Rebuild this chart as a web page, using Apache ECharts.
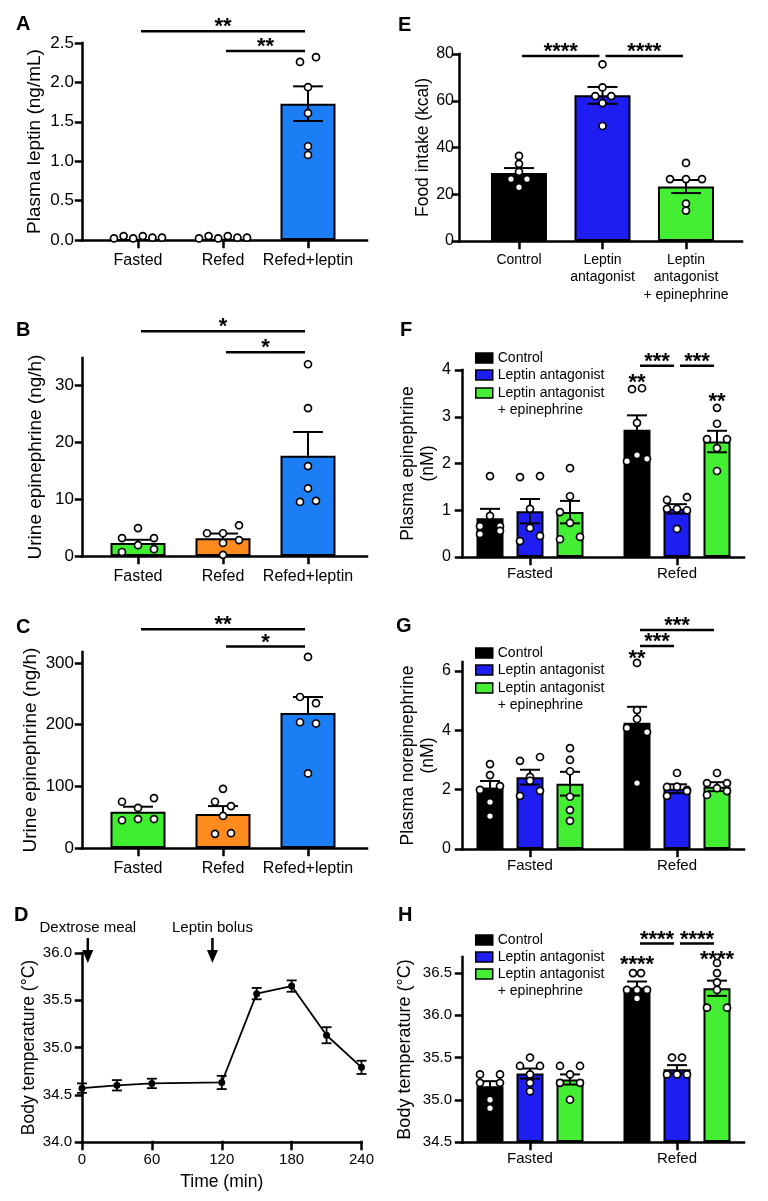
<!DOCTYPE html>
<html><head><meta charset="utf-8">
<script src="https://cdn.jsdelivr.net/npm/echarts@6/dist/echarts.min.js"></script>
<style>html,body{margin:0;padding:0;background:#fff}#c{width:768px;height:1201px}</style>
</head><body><div id="c"></div>
<script>
// ================= DATA =================
// Panel A
const catsABC = ['Fasted', 'Refed', 'Refed+leptin'];
const ticksA = [0, 0.5, 1.0, 1.5, 2.0, 2.5];
const meanA = [0, 0, 1.73];
const semA = [0, 0, 0.22];
const dotsA = [[0.02,0.05,0.02,0.05,0.03,0.03],[0.02,0.05,0.02,0.05,0.03,0.03],[2.26,2.32,1.94,1.61,1.19,1.08]];
const laneA = [[-1.5,-0.9,-0.3,0.3,0.9,1.5],[-1.5,-0.9,-0.3,0.3,0.9,1.5],[-0.5,0.5,0,0,0,0]];
const sigA = [[0,2,2.65],[1,2,2.40]];
const sigLabA = ['**','**'];
// Panel B
const ticksB = [0, 10, 20, 30];
const meanB = [2.3, 3.1, 17.6];
const semB = [0.55, 0.85, 4.2];
const dotsB = [[3.15,4.9,3.15,0.7,1.9,1.2],[4.0,4.0,5.4,2.3,2.8,0.2],[33.7,26.0,15.8,11.9,9.5,9.7]];
const laneB = [[-1,0,1,-1,0,1],[-1,0,1,0,1,0],[0,0,0,0,-0.5,0.5]];
const sigB = [[0,2,39.5],[1,2,35.8]];
const sigLabB = ['*','*'];
// Panel C
const ticksC = [0, 100, 200, 300];
const meanC = [59, 55, 219];
const semC = [8, 13, 26];
const dotsC = [[75,65,81,45,47,47],[96,75,68,52,23,24],[310,245,235,204,202,121]];
const laneC = [[-1,0,1,-1,0,1],[0,-0.5,0.5,0,-0.5,0.5],[0,-0.5,0.5,-0.5,0.5,0]];
const sigC = [[0,2,355],[1,2,327]];
const sigLabC = ['**','*'];
// Panel D
const timeD = [0, 30, 60, 120, 150, 180, 210, 240];
const tempD = [34.57, 34.60, 34.62, 34.63, 35.57, 35.65, 35.13, 34.79];
const semD = [0.05, 0.055, 0.05, 0.07, 0.06, 0.06, 0.085, 0.07];
const ticksDx = [0, 60, 120, 180, 240];
const ticksDy = [34.0, 34.5, 35.0, 35.5, 36.0];
const eventTimesD = [5, 112];
const eventLabelsD = ['Dextrose meal', 'Leptin bolus'];
// Panel E
const catsE = ['Control', 'Leptin\nantagonist', 'Leptin\nantagonist\n+ epinephrine'];
const ticksE = [0, 20, 40, 60, 80];
const meanE = [29.1, 62.3, 23.3];
const semE = [2.1, 3.6, 2.8];
const dotsE = [[36.4,33.0,29.6,26.5,26.5,23.0],[75.6,65.7,62.0,62.0,59.0,49.2],[33.4,26.5,26.5,26.5,16.0,13.0]];
const laneE = [[0,0,0,-0.5,0.5,0],[0,0,-0.45,0.55,0,0],[0,-1,0,1,0,0]];
const sigE = [[0,1,79.1],[1,2,79.1]];
const sigLabE = ['****','****'];
// Panels F-H (series x group)
const groupsFGH = ['Fasted', 'Refed'];
const seriesFGH = ['Control', 'Leptin antagonist', 'Leptin antagonist + epinephrine'];
// F
const ticksF = [0, 1, 2, 3, 4];
const meanF = [[0.83,2.72],[0.98,1.03],[0.96,2.47]];
const semF = [[0.2,0.31],[0.26,0.1],[0.24,0.23]];
const dotsF = [
  [[1.73,0.88,0.66,0.66,0.49,0.56],[3.59,3.61,2.87,2.05,2.18,2.10]],
  [[1.71,1.73,1.03,0.62,0.34,0.45],[1.22,1.28,1.03,1.03,1.00,0.60]],
  [[1.90,1.30,0.73,0.96,0.38,0.43],[3.19,2.85,2.52,2.52,2.33,1.84]]];
const laneF = [
  [[0,0,-1,1,-1,1],[-0.5,0.5,0,-1,0,1]],
  [[-1,1,0,0,-1,1],[-1,1,-1,0,1,0]],
  [[0,0,0,-1,-1,1],[0,0,-1,1,0,0]]];
const sigF = [[[1,0],[1,1],4.09],[[1,1],[1,2],4.09],[[1,0],[1,0],3.83],[[1,2],[1,2],3.42]];
const sigLabF = ['***','***','**','**'];
// G
const ticksG = [0, 2, 4, 6];
const meanG = [[2.07,4.25],[2.42,2.03],[2.2,2.1]];
const semG = [[0.22,0.54],[0.25,0.15],[0.4,0.15]];
const dotsG = [
  [[2.86,2.49,1.99,2.12,1.58,1.11],[6.27,4.68,4.08,3.94,4.38,2.22]],
  [[2.97,3.10,2.43,1.96,1.79,2.30],[2.56,2.09,1.99,2.10,1.79,1.95]],
  [[3.40,3.00,2.62,1.76,1.31,0.95],[2.56,2.22,2.22,2.05,1.82,1.95]]];
const laneG = [
  [[0,0,-1,1,0,0],[0,0,-1,1,0,0]],
  [[-1,1,0,1,-1,0],[0,-1,1,0,-1,1]],
  [[0,0,0,0,0,0],[0,-1,1,0,-1,1]]];
const sigG = [[[1,0],[1,1],6.84],[[1,0],[1,2],7.38],[[1,0],[1,0],6.57]];
const sigLabG = ['***','***','**'];
// H
const ticksH = [34.5, 35.0, 35.5, 36.0, 36.5];
const meanH = [[35.16,36.33],[35.31,35.36],[35.24,36.32]];
const semH = [[0.06,0.07],[0.06,0.05],[0.06,0.09]];
const dotsH = [
  [[35.3,35.3,35.2,35.2,35.0,34.9],[36.5,36.5,36.3,36.3,36.3,36.2]],
  [[35.5,35.4,35.4,35.3,35.2,35.1],[35.5,35.5,35.3,35.3,35.3,35.3]],
  [[35.4,35.4,35.3,35.2,35.2,35.0],[36.62,36.5,36.39,36.3,36.09,36.09]]];
const laneH = [
  [[-1,1,-1,1,0,0],[-0.4,0.4,-1,0,1,0]],
  [[0,-1,1,0,0,0],[-0.5,0.5,-1,0,1,0]],
  [[-1,1,0,-1,1,0],[0,0,0,0,-1,1]]];
const sigH = [[[1,0],[1,1],36.85],[[1,1],[1,2],36.85],[[1,0],[1,0],36.65],[[1,2],[1,2],36.72]];
const sigLabH = ['****','****','****','****'];

// ================= STYLE / LAYOUT =================
const FONT = '"Liberation Sans", Arial, Helvetica, sans-serif';
const BLUE1 = '#1c7ef4', GREEN1 = '#3fee2e', ORANGE = '#ff8a1e';
const BLUE2 = '#1e1ef2', GREEN2 = '#44ee33';
const colorsFGH = ['#000000', BLUE2, GREEN2];
const LINE = {color: '#000', width: 2.5, cap: 'square'};
const OFF = 40 / 147; // member offset within a group (F-H)

const option = {
  animation: false, backgroundColor: '#fff',
  textStyle: {fontFamily: FONT, color: '#000'},
  title: [], legend: [], grid: [], xAxis: [], yAxis: [], series: []
};

function fmt1(v) { return Number(v).toFixed(1); }
function fmt0(v) { return String(Math.round(v * 100) / 100); }

function addPanel(p) {
  const gi = option.grid.length;
  option.grid.push({left: p.left, top: p.top, width: p.width, height: p.height});
  option.xAxis.push({
    type: 'value', gridIndex: gi, min: p.xMin, max: p.xMax,
    axisLine: {show: true, onZero: false, lineStyle: LINE},
    axisTick: {show: true, length: 7, lineStyle: LINE, customValues: p.xTicks},
    axisLabel: {show: true, customValues: p.xTicks, formatter: p.xFmt, color: '#000',
      fontSize: p.xLabelSize, margin: p.xLabelMargin, lineHeight: p.xLabelLH || undefined, fontFamily: FONT},
    splitLine: {show: false},
    name: p.xName || '', nameLocation: 'middle', nameGap: p.xNameGap || 0,
    nameTextStyle: {color: '#000', fontSize: p.xNameSize || 16, fontFamily: FONT}
  });
  option.yAxis.push({
    type: 'value', gridIndex: gi, min: p.yMin, max: p.yMax, startValue: p.yMin,
    axisLine: {show: true, onZero: false, lineStyle: LINE},
    axisTick: {show: true, length: 6, lineStyle: LINE, customValues: p.yTicks},
    axisLabel: {show: true, customValues: p.yTicks, formatter: p.yFmt, color: '#000',
      fontSize: p.yLabelSize, margin: p.yLabelMargin, fontFamily: FONT},
    splitLine: {show: false},
    name: p.yName, nameLocation: 'middle', nameGap: p.yNameGap,
    nameTextStyle: {color: '#000', fontSize: p.yNameSize, lineHeight: p.yNameLH || undefined, fontFamily: FONT, align: 'center'}
  });
  return gi;
}

function errRender(capHalf, lower, lw) {
  return function (params, api) {
    const x = api.value(0), m = api.value(1), s = api.value(2);
    if (!(s > 0)) return null;
    const p0 = api.coord([x, lower ? m - s : m]);
    const p1 = api.coord([x, m + s]);
    const st = {stroke: '#000', lineWidth: lw};
    const ch = [
      {type: 'line', shape: {x1: p0[0], y1: p0[1], x2: p1[0], y2: p1[1]}, style: st},
      {type: 'line', shape: {x1: p1[0] - capHalf, y1: p1[1], x2: p1[0] + capHalf, y2: p1[1]}, style: st}
    ];
    if (lower) ch.push({type: 'line', shape: {x1: p0[0] - capHalf, y1: p0[1], x2: p0[0] + capHalf, y2: p0[1]}, style: st});
    return {type: 'group', children: ch};
  };
}
function addErr(gi, pts, capHalf, lower, lw) {
  option.series.push({type: 'custom', xAxisIndex: gi, yAxisIndex: gi, z: 3, silent: true, clip: false,
    data: pts, encode: {x: 0, y: 1}, renderItem: errRender(capHalf, lower, lw)});
}
function addDots(gi, pts) {
  option.series.push({type: 'scatter', xAxisIndex: gi, yAxisIndex: gi, z: 4, silent: true, clip: false,
    symbol: 'circle', symbolSize: 7,
    itemStyle: {color: '#fff', borderColor: '#000', borderWidth: 1.7, opacity: 1},
    data: pts});
}
const STAR_FONT = 'bold 22px ' + FONT;
function addSig(gi, items, labels) {
  option.series.push({type: 'custom', xAxisIndex: gi, yAxisIndex: gi, z: 6, silent: true, clip: false,
    data: items, encode: {x: [0, 1], y: 2},
    renderItem: function (params, api) {
      const x1 = api.value(0), x2 = api.value(1), y = api.value(2);
      const a = api.coord([x1, y]), b = api.coord([x2, y]);
      const ch = [];
      let starY;
      if (Math.abs(b[0] - a[0]) > 1) {
        ch.push({type: 'line', shape: {x1: a[0] + 3, y1: a[1], x2: b[0] - 3, y2: a[1]}, style: {stroke: '#000', lineWidth: 2.5}});
        starY = a[1] - 9;
      } else starY = a[1];
      ch.push({type: 'text', x: (a[0] + b[0]) / 2, y: starY + 5,
        style: {text: labels[params.dataIndex], fill: '#000', font: STAR_FONT, align: 'center', verticalAlign: 'middle'}});
      return {type: 'group', children: ch};
    }});
}

// simple (one series) bar panel
function simplePanel(p, cats, means, sems, dots, lanes, colors, sig, sigLab) {
  const gi = addPanel(Object.assign({
    xTicks: cats.map((c, i) => i),
    xFmt: v => cats[Math.round(v)]
  }, p));
  option.series.push({type: 'bar', xAxisIndex: gi, yAxisIndex: gi, z: 2, silent: true, barWidth: p.barW,
    itemStyle: {borderColor: '#000', borderWidth: 2},
    data: means.map((m, i) => ({value: [i, m], itemStyle: {color: colors[i]}}))});
  addErr(gi, means.map((m, i) => [i, m, sems[i]]), p.capHalf, p.lowerErr, 2);
  const pts = [];
  dots.forEach((arr, i) => arr.forEach((v, k) => pts.push([i + lanes[i][k] * p.laneW / p.unit, v])));
  addDots(gi, pts);
  addSig(gi, sig, sigLab);
}

function groupPanel(p, means, sems, dots, lanes, sig, sigLab, legTops) {
  const gi = addPanel(Object.assign({
    xTicks: groupsFGH.map((g, i) => i),
    xFmt: v => groupsFGH[Math.round(v)]
  }, p));
  const pos = (g, s) => g + (s - 1) * OFF;
  seriesFGH.forEach((name, s) => {
    option.series.push({type: 'bar', name: name, xAxisIndex: gi, yAxisIndex: gi, z: 2, silent: true,
      barWidth: 27, barGap: '-100%', clip: true,
      itemStyle: {color: colorsFGH[s], borderColor: '#000', borderWidth: 2},
      data: groupsFGH.map((g, gIdx) => [pos(gIdx, s), means[s][gIdx]])});
  });
  const errs = [], pts = [];
  seriesFGH.forEach((name, s) => groupsFGH.forEach((g, gIdx) => {
    errs.push([pos(gIdx, s), means[s][gIdx], sems[s][gIdx]]);
    dots[s][gIdx].forEach((v, k) => pts.push([pos(gIdx, s) + lanes[s][gIdx][k] * 10 / 147, v]));
  }));
  addErr(gi, errs, 10, true, 2);
  addDots(gi, pts);
  addSig(gi, sig.map(it => [pos(it[0][0], it[0][1]), pos(it[1][0], it[1][1]), it[2]]), sigLab);
  // legends
  const legBase = {orient: 'vertical', left: 475, padding: 0, itemGap: 0, icon: 'rect',
    itemWidth: 17, itemHeight: 10, selectedMode: false,
    itemStyle: {borderColor: '#000', borderWidth: 1.5},
    textStyle: {fontSize: 14, lineHeight: 17, color: '#000', fontFamily: FONT}};
  option.legend.push(Object.assign({}, legBase, {top: legTops[0] - 8.5, data: seriesFGH.slice(0, 2)}));
  option.legend.push(Object.assign({}, legBase, {top: legTops[1] - 25.5, data: [seriesFGH[2]],
    formatter: () => '\nLeptin antagonist\n+ epinephrine'}));
}

// ---------------- Panels ----------------
const abcBase = {left: 82, width: 285, xMin: (82 - 138) / 85, xMax: (367 - 138) / 85, unit: 85,
  xLabelSize: 16, xLabelMargin: 13, yLabelSize: 17, yLabelMargin: 8, yNameSize: 19,
  barW: 55, capHalf: 15, laneW: 16};
simplePanel(Object.assign({}, abcBase, {top: 43, height: 197, yMin: 0, yMax: 2.5, yTicks: ticksA, yFmt: fmt1,
  yName: 'Plasma leptin (ng/mL)', yNameGap: 38, lowerErr: true}),
  catsABC, meanA, semA, dotsA, laneA, [BLUE1, BLUE1, BLUE1], sigA, sigLabA);
simplePanel(Object.assign({}, abcBase, {top: 358, height: 198, yMin: 0, yMax: 34.8, yTicks: ticksB, yFmt: fmt0,
  yName: 'Urine epinephrine (ng/h)', yNameGap: 37, lowerErr: false}),
  catsABC, meanB, semB, dotsB, laneB, [GREEN1, ORANGE, BLUE1], sigB, sigLabB);
simplePanel(Object.assign({}, abcBase, {top: 652, height: 196, yMin: 0, yMax: 318, yTicks: ticksC, yFmt: fmt0,
  yName: 'Urine epinephrine (ng/h)', yNameGap: 42, lowerErr: false}),
  catsABC, meanC, semC, dotsC, laneC, [GREEN1, ORANGE, BLUE1], sigC, sigLabC);

// Panel E
simplePanel({left: 459, width: 283, top: 54, height: 187, xMin: (459 - 519) / 83.5, xMax: (742 - 519) / 83.5, unit: 83.5,
  xLabelSize: 14, xLabelMargin: 10, xLabelLH: 17.5, yLabelSize: 16, yLabelMargin: 5, yNameSize: 17.5,
  barW: 56, capHalf: 15, laneW: 16, yMin: 0, yMax: 80, yTicks: ticksE, yFmt: fmt0,
  yName: 'Food intake (kcal)', yNameGap: 21, lowerErr: true},
  catsE, meanE, semE, dotsE, laneE, ['#000000', BLUE2, GREEN2], sigE, sigLabE);

// Panels F, G, H
const fghBase = {left: 462, width: 282, xMin: (462 - 530) / 147, xMax: (744 - 530) / 147,
  xLabelSize: 15, xLabelMargin: 9, yLabelSize: 16, yLabelMargin: 11, yNameSize: 17.5, yNameLH: 20};
groupPanel(Object.assign({}, fghBase, {top: 370, height: 187, yMin: 0, yMax: 4, yTicks: ticksF, yFmt: fmt0,
  yName: 'Plasma epinephrine\n(nM)', yNameGap: 17}), meanF, semF, dotsF, laneF, sigF, sigLabF, [358, 393]);
groupPanel(Object.assign({}, fghBase, {top: 662, height: 187, yMin: 0, yMax: 6.3, yTicks: ticksG, yFmt: fmt0,
  yName: 'Plasma norepinephrine\n(nM)', yNameGap: 15}), meanG, semG, dotsG, laneG, sigG, sigLabG, [653, 688]);
groupPanel(Object.assign({}, fghBase, {top: 957, height: 185, yMin: 34.5, yMax: 36.69, yTicks: ticksH, yFmt: fmt1,
  yLabelSize: 15, yLabelMargin: 10, yNameSize: 18, yNameLH: null,
  yName: 'Body temperature (°C)', yNameGap: 48}), meanH, semH, dotsH, laneH, sigH, sigLabH, [940, 974]);

// Panel D (line)
(function () {
  const gi = addPanel({left: 82, width: 279.5, top: 953, height: 189, xMin: 0, xMax: 240, xTicks: ticksDx,
    xFmt: v => String(v), xLabelSize: 15, xLabelMargin: 10, xName: 'Time (min)', xNameGap: 31, xNameSize: 17.5,
    yMin: 34, yMax: 36, yTicks: ticksDy, yFmt: fmt1, yLabelSize: 15, yLabelMargin: 10,
    yName: 'Body temperature (°C)', yNameSize: 17.5, yNameGap: 44});
  option.series.push({type: 'line', xAxisIndex: gi, yAxisIndex: gi, z: 4, silent: true,
    symbol: 'circle', symbolSize: 7, itemStyle: {color: '#000'}, lineStyle: {color: '#000', width: 1.8},
    data: timeD.map((t, i) => [t, tempD[i]])});
  addErr(gi, timeD.map((t, i) => [t, tempD[i], semD[i]]), 5, true, 1.8);
  option.series.push({type: 'custom', xAxisIndex: gi, yAxisIndex: gi, z: 6, silent: true, clip: false,
    data: eventTimesD.map(t => [t, 36]), encode: {x: 0, y: 1},
    renderItem: function (params, api) {
      const p = api.coord([api.value(0), api.value(1)]);
      const x = p[0], top = p[1];
      return {type: 'group', children: [
        {type: 'text', x: x, y: top - 25, style: {text: eventLabelsD[params.dataIndex], fill: '#000',
          font: '15px ' + FONT, align: 'center', verticalAlign: 'middle'}},
        {type: 'line', shape: {x1: x, y1: top - 15, x2: x, y2: top - 1}, style: {stroke: '#000', lineWidth: 2.5}},
        {type: 'polygon', shape: {points: [[x - 5.5, top - 3], [x + 5.5, top - 3], [x, top + 10]]}, style: {fill: '#000'}}
      ]};
    }});
})();

// Panel letters
[['A', 16, 14], ['B', 16, 320], ['C', 16, 617], ['D', 14, 905],
 ['E', 398, 15], ['F', 400, 320], ['G', 396, 616], ['H', 398, 905]].forEach(t => {
  option.title.push({text: t[0], left: t[1], top: t[2], padding: 0,
    textStyle: {fontSize: 20, fontWeight: 'bold', color: '#000', fontFamily: FONT}});
});

const chart = echarts.init(document.getElementById('c'), null, {renderer: 'canvas'});
chart.setOption(option);
</script>
</body></html>
